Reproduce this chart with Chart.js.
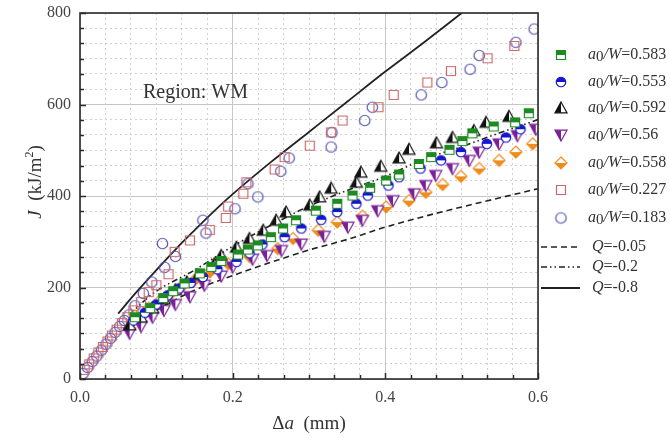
<!DOCTYPE html>
<html>
<head>
<meta charset="utf-8">
<script src="https://cdn.jsdelivr.net/npm/chart.js@4.4.1/dist/chart.umd.min.js"></script>
<style>
  body { margin: 0; background: #fff; }
  canvas { display: block; }
</style>
</head>
<body>
<canvas id="jrChart" width="670" height="444"></canvas>
<script>
// tick labels
const xTickLabels = ['0.0', '0.2', '0.4', '0.6'];
const yTickLabels = ['0', '200', '400', '600', '800'];

// a0/W = 0.583 (green squares)
const da583 = [0.072, 0.092, 0.109, 0.122, 0.137, 0.157, 0.172, 0.185, 0.207, 0.220, 0.233, 0.250, 0.266, 0.283, 0.309, 0.337, 0.357, 0.380, 0.401, 0.418, 0.444, 0.460, 0.484, 0.501, 0.514, 0.542, 0.570, 0.588];
const j583 = [135, 155, 177, 192, 209, 231, 245, 258, 272, 283, 292, 310, 329, 347, 368, 383, 401, 418, 434, 447, 470, 485, 501, 520, 537, 552, 561, 581];

// a0/W = 0.553 (blue half circles)
const da553 = [0.070, 0.085, 0.100, 0.115, 0.130, 0.145, 0.161, 0.180, 0.205, 0.222, 0.239, 0.268, 0.290, 0.316, 0.337, 0.362, 0.377, 0.404, 0.418, 0.446, 0.473, 0.499, 0.533, 0.558, 0.577];
const j553 = [128, 145, 163, 183, 198, 210, 223, 240, 256, 275, 294, 310, 329, 348, 365, 383, 401, 423, 441, 460, 478, 496, 514, 528, 546];

// a0/W = 0.592 (black triangles)
const da592 = [0.065, 0.080, 0.095, 0.110, 0.125, 0.140, 0.155, 0.176, 0.185, 0.205, 0.222, 0.240, 0.257, 0.270, 0.301, 0.314, 0.329, 0.362, 0.368, 0.394, 0.418, 0.431, 0.467, 0.488, 0.516, 0.532, 0.562];
const j592 = [118, 135, 155, 175, 195, 212, 228, 252, 270, 288, 307, 325, 347, 365, 380, 398, 417, 430, 452, 465, 483, 502, 516, 528, 543, 561, 574];

// a0/W = 0.56 (purple down triangles)
const da560 = [0.065, 0.080, 0.095, 0.110, 0.125, 0.144, 0.163, 0.185, 0.200, 0.226, 0.245, 0.264, 0.290, 0.320, 0.351, 0.370, 0.390, 0.410, 0.438, 0.453, 0.466, 0.488, 0.510, 0.523, 0.549, 0.573, 0.597];
const j560 = [100, 115, 135, 150, 163, 180, 205, 225, 245, 262, 270, 281, 295, 312, 332, 347, 368, 390, 405, 423, 445, 460, 478, 496, 514, 532, 546];

// a0/W = 0.558 (orange diamonds)
const da558 = [0.072, 0.090, 0.105, 0.118, 0.131, 0.150, 0.170, 0.194, 0.222, 0.259, 0.279, 0.312, 0.337, 0.370, 0.401, 0.431, 0.453, 0.475, 0.499, 0.523, 0.549, 0.571, 0.593];
const j558 = [138, 155, 172, 185, 198, 216, 234, 252, 268, 285, 307, 325, 343, 356, 376, 390, 408, 425, 443, 460, 478, 496, 514];

// a0/W = 0.227 (open squares)
const da227 = [0.006, 0.012, 0.018, 0.024, 0.030, 0.036, 0.042, 0.048, 0.055, 0.062, 0.070, 0.080, 0.090, 0.100, 0.116, 0.124, 0.144, 0.170, 0.191, 0.194, 0.214, 0.218, 0.255, 0.268, 0.301, 0.329, 0.344, 0.391, 0.411, 0.455, 0.486, 0.534, 0.569];
const j227 = [20, 32, 45, 58, 70, 82, 95, 108, 122, 135, 150, 168, 190, 205, 229, 278, 303, 326, 352, 377, 405, 430, 458, 485, 510, 539, 565, 594, 621, 648, 673, 701, 728];

// a0/W = 0.183 (open circles)
const da183 = [0.004, 0.010, 0.016, 0.022, 0.028, 0.034, 0.040, 0.046, 0.052, 0.058, 0.064, 0.072, 0.083, 0.094, 0.108, 0.111, 0.125, 0.161, 0.165, 0.203, 0.220, 0.233, 0.263, 0.274, 0.329, 0.330, 0.373, 0.383, 0.447, 0.474, 0.511, 0.523, 0.571, 0.595];
const j183 = [12, 25, 38, 50, 63, 76, 89, 102, 115, 128, 140, 160, 187, 212, 296, 244, 268, 347, 319, 372, 427, 398, 454, 483, 507, 539, 565, 594, 621, 648, 677, 707, 736, 765];

// Q curves
const daQ05 = [0.065, 0.080, 0.100, 0.150, 0.200, 0.250, 0.300, 0.350, 0.400, 0.450, 0.500, 0.550, 0.600];
const jQ05 = [110, 128, 150, 194, 226, 255, 282, 305, 332, 355, 376, 396, 416];
const daQ2 = [0.065, 0.080, 0.100, 0.150, 0.200, 0.250, 0.300, 0.350, 0.400, 0.450, 0.500, 0.550, 0.600];
const jQ2 = [140, 165, 192, 238, 290, 336, 378, 412, 443, 480, 508, 538, 567];
const daQ8 = [0.050, 0.075, 0.100, 0.125, 0.150, 0.175, 0.200, 0.250, 0.300, 0.350, 0.400, 0.450, 0.500];
const jQ8 = [143, 192, 238, 283, 325, 366, 404, 474, 540, 606, 672, 735, 800];

const serif = '"Liberation Serif", "DejaVu Serif", serif';
const xMajor = 0.2, yMajor = 200;

function pts(xs, ys) { return xs.map((x, i) => ({ x: x, y: ys[i] })); }

// half filled marker drawn into a small canvas, used as pointStyle
function makeMarker(shape, color, half, r) {
  const s = Math.ceil(r * 2 + 4);
  const c = document.createElement('canvas');
  c.width = s; c.height = s;
  const g = c.getContext('2d');
  const cx = s / 2, cy = s / 2;
  function path() {
    g.beginPath();
    if (shape === 'square') g.rect(cx - r * 0.9, cy - r * 0.9, r * 1.8, r * 1.8);
    else if (shape === 'circle') g.arc(cx, cy, r * 0.95, 0, Math.PI * 2);
    else if (shape === 'tri') { g.moveTo(cx, cy - r); g.lineTo(cx + r, cy + r * 0.8); g.lineTo(cx - r, cy + r * 0.8); g.closePath(); }
    else if (shape === 'triDown') { g.moveTo(cx - r, cy - r * 0.8); g.lineTo(cx + r, cy - r * 0.8); g.lineTo(cx, cy + r); g.closePath(); }
    else if (shape === 'diamond') { g.moveTo(cx, cy - r); g.lineTo(cx + r, cy); g.lineTo(cx, cy + r); g.lineTo(cx - r, cy); g.closePath(); }
  }
  if (half) {
    path(); g.fillStyle = '#fff'; g.fill();
    g.save(); path(); g.clip();
    g.fillStyle = color;
    if (half === 'top') g.fillRect(0, 0, s, cy);
    if (half === 'bottom') g.fillRect(0, cy, s, s);
    if (half === 'left') g.fillRect(0, 0, cx, s);
    g.restore();
  }
  path(); g.lineWidth = 1.2; g.strokeStyle = color; g.stroke();
  return c;
}

const mkGreen = makeMarker('square', '#1d8a22', 'top', 5);
const mkBlue = makeMarker('circle', '#1414d2', 'top', 5);
const mkBlack = makeMarker('tri', '#111111', 'left', 6);
const mkPurple = makeMarker('triDown', '#7a1f96', 'left', 6);
const mkOrange = makeMarker('diamond', '#f08c1c', 'bottom', 6);
const mkRed = makeMarker('square', '#c86a6a', null, 5);
const mkCircle = makeMarker('circle', '#5454b4', null, 5.5);

function scatterSet(label, xs, ys, marker) {
  return { label: label, data: pts(xs, ys), pointStyle: marker, pointRadius: 5, showLine: false, order: 1 };
}
function curveSet(label, xs, ys, dash, width) {
  return {
    label: label, data: pts(xs, ys), showLine: true, pointRadius: 0, borderColor: '#222',
    borderWidth: width, borderDash: dash, tension: 0.4, cubicInterpolationMode: 'monotone', order: 2
  };
}

const datasets = [
  scatterSet('0.583', da583, j583, mkGreen),
  scatterSet('0.553', da553, j553, mkBlue),
  scatterSet('0.592', da592, j592, mkBlack),
  scatterSet('0.56', da560, j560, mkPurple),
  scatterSet('0.558', da558, j558, mkOrange),
  scatterSet('0.227', da227, j227, mkRed),
  scatterSet('0.183', da183, j183, mkCircle),
  curveSet('-0.05', daQ05, jQ05, [6, 4], 1.6),
  curveSet('-0.2', daQ2, jQ2, [6, 3, 1.5, 3, 1.5, 3], 1.6),
  curveSet('-0.8', daQ8, jQ8, [], 1.8)
];

function isMajor(v, step) { return Math.abs(v / step - Math.round(v / step)) < 1e-6; }

// draw a row of text pieces with mixed fonts
function textRuns(ctx, runs, x, y, align) {
  let w = 0;
  runs.forEach(r => { ctx.font = r.f; w += ctx.measureText(r.t).width; });
  let cx = align === 'center' ? x - w / 2 : x;
  ctx.textBaseline = 'middle';
  ctx.textAlign = 'left';
  runs.forEach(r => {
    ctx.font = r.f;
    ctx.fillText(r.t, cx, y + (r.dy || 0));
    cx += ctx.measureText(r.t).width;
  });
}

const decorPlugin = {
  id: 'decor',
  afterDraw(chart) {
    const ctx = chart.ctx;
    const a = chart.chartArea;
    const xs = chart.scales.x, ys = chart.scales.y;
    ctx.save();

    // frame and inward ticks
    ctx.strokeStyle = '#2b2b2b';
    ctx.lineWidth = 1.6;
    ctx.setLineDash([]);
    ctx.strokeRect(a.left, a.top, a.right - a.left, a.bottom - a.top);
    ctx.lineWidth = 1.5;
    ctx.beginPath();
    xs.ticks.forEach(t => {
      const px = Math.round(xs.getPixelForValue(t.value)) + 0.5;
      ctx.moveTo(px, a.bottom); ctx.lineTo(px, a.bottom - (isMajor(t.value, xMajor) ? 6 : 4));
    });
    ys.ticks.forEach(t => {
      const py = Math.round(ys.getPixelForValue(t.value)) + 0.5;
      ctx.moveTo(a.left, py); ctx.lineTo(a.left + (isMajor(t.value, yMajor) ? 6 : 4), py);
    });
    ctx.stroke();

    ctx.fillStyle = '#333';
    // axis titles
    textRuns(ctx, [
      { t: '\u0394', f: '19px ' + serif },
      { t: 'a', f: 'italic 19px ' + serif },
      { t: '  (mm)', f: '19px ' + serif }
    ], 309, 424, 'center');
    ctx.save();
    ctx.translate(36, 182);
    ctx.rotate(-Math.PI / 2);
    textRuns(ctx, [
      { t: 'J', f: 'italic 19px ' + serif },
      { t: '  (kJ/m', f: '19px ' + serif },
      { t: '2', f: '12px ' + serif, dy: -6 },
      { t: ')', f: '19px ' + serif }
    ], 0, 0, 'center');
    ctx.restore();

    // annotation
    textRuns(ctx, [{ t: 'Region: WM', f: '20px ' + serif }], 143, 93, 'left');

    // legend
    const rowY = [55, 82, 108, 135, 163, 190, 218, 247, 267, 288];
    chart.data.datasets.forEach((ds, i) => {
      const y = rowY[i];
      if (!ds.showLine) {
        const m = ds.pointStyle;
        ctx.drawImage(m, 561 - m.width / 2, y - m.height / 2);
        textRuns(ctx, [
          { t: 'a', f: 'italic 16px ' + serif },
          { t: '0', f: '15px ' + serif, dy: 2 },
          { t: '/W', f: 'italic 16px ' + serif },
          { t: '=' + ds.label, f: '16px ' + serif }
        ], 588, y, 'left');
      } else {
        ctx.strokeStyle = '#222';
        ctx.lineWidth = ds.borderWidth;
        ctx.setLineDash(ds.borderDash);
        ctx.beginPath(); ctx.moveTo(541, y); ctx.lineTo(580, y); ctx.stroke();
        ctx.setLineDash([]);
        textRuns(ctx, [
          { t: 'Q', f: 'italic 16px ' + serif },
          { t: '=' + ds.label, f: '16px ' + serif }
        ], 592, y, 'left');
      }
    });
    ctx.restore();
  }
};

function axisOpts(min, max, major, labels, fit) {
  return {
    type: 'linear', min: min, max: max,
    ticks: {
      stepSize: major / 6, autoSkip: false, maxRotation: 0, padding: 9,
      color: '#444', font: { family: serif, size: 16 },
      callback: v => isMajor(v, major) ? labels[Math.round((v - min) / major)] : ''
    },
    grid: {
      drawTicks: false,
      color: ctx => ctx.tick && isMajor(ctx.tick.value, major) ? '#c6c6c6' : '#d0d0d0',
      lineWidth: 1
    },
    border: {
      display: false,
      dash: ctx => ctx.tick && !isMajor(ctx.tick.value, major) ? [2, 3] : []
    },
    afterFit: fit
  };
}

new Chart(document.getElementById('jrChart'), {
  type: 'scatter',
  data: { datasets: datasets },
  options: {
    responsive: false,
    animation: false,
    layout: { padding: { left: 0, right: 132, top: 13, bottom: 0 } },
    plugins: { legend: { display: false }, tooltip: { enabled: false } },
    scales: {
      x: axisOpts(0, 0.6, xMajor, xTickLabels, s => { s.height = 65; s.paddingLeft = 0; s.paddingRight = 0; }),
      y: axisOpts(0, 800, yMajor, yTickLabels, s => { s.width = 80; s.paddingTop = 0; s.paddingBottom = 0; })
    }
  },
  plugins: [decorPlugin]
});
</script>
</body>
</html>
